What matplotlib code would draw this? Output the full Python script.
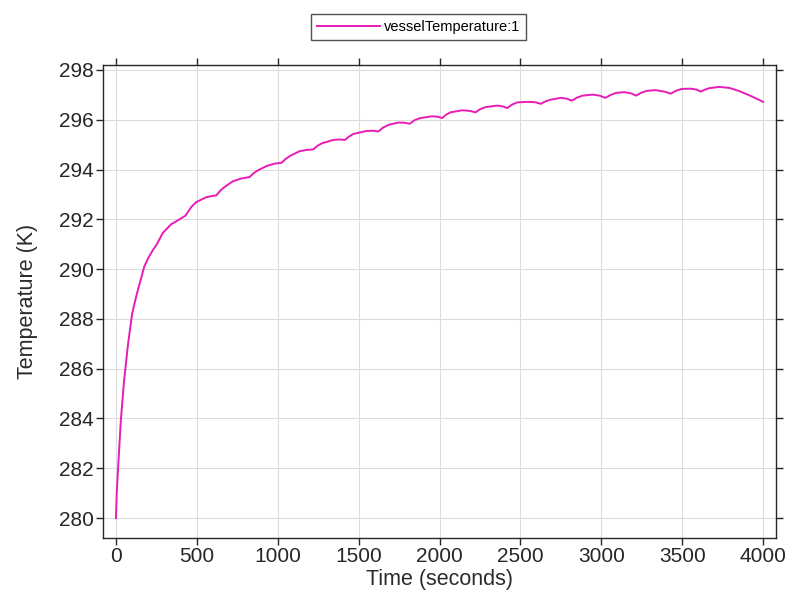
import matplotlib
matplotlib.use('Agg')
import matplotlib.pyplot as plt

plt.rcParams['font.family'] = ['Liberation Sans', 'DejaVu Sans']

# Time (s) and vessel temperature (K)
time_s = [0, 5, 15, 30, 50, 75, 100, 125, 150, 175, 200, 227, 253, 289, 341, 393,
          430, 465, 496, 558, 595, 620, 645, 671, 723, 775, 826, 850, 878, 930, 981,
          1023, 1048, 1074, 1136, 1180, 1219, 1245, 1271, 1343, 1380, 1415, 1440,
          1467, 1550, 1590, 1622, 1650, 1686, 1748, 1785, 1816, 1845, 1882, 1955,
          1990, 2017, 2040, 2068, 2140, 2185, 2223, 2250, 2285, 2357, 2390, 2419,
          2445, 2481, 2554, 2595, 2626, 2655, 2688, 2750, 2785, 2818, 2850, 2884,
          2946, 2990, 3025, 3055, 3091, 3143, 3185, 3215, 3245, 3280, 3336, 3390,
          3430, 3460, 3497, 3554, 3590, 3614, 3640, 3667, 3729, 3792, 3854, 3927,
          4000]
vessel_temp = [280.0, 281.0, 282.2, 283.9, 285.5, 287.0, 288.2, 288.9, 289.5, 290.1,
               290.45, 290.75, 291.0, 291.45, 291.8, 292.0, 292.15, 292.49, 292.69,
               292.89, 292.94, 292.96, 293.15, 293.30, 293.53, 293.64, 293.70, 293.85,
               293.97, 294.14, 294.24, 294.27, 294.42, 294.54, 294.74, 294.79, 294.81,
               294.95, 295.05, 295.19, 295.21, 295.19, 295.32, 295.43, 295.55, 295.56,
               295.53, 295.68, 295.80, 295.89, 295.88, 295.84, 295.98, 296.07, 296.14,
               296.12, 296.07, 296.20, 296.30, 296.38, 296.36, 296.30, 296.42, 296.51,
               296.57, 296.54, 296.47, 296.60, 296.70, 296.72, 296.70, 296.64, 296.74,
               296.81, 296.88, 296.85, 296.77, 296.89, 296.97, 297.01, 296.97, 296.88,
               296.99, 297.08, 297.11, 297.06, 296.97, 297.08, 297.16, 297.19, 297.13,
               297.05, 297.16, 297.24, 297.25, 297.21, 297.13, 297.21, 297.27, 297.32,
               297.28, 297.15, 296.95, 296.72]

x_ticks = list(range(0, 4001, 500))
y_ticks = list(range(280, 299, 2))

fig = plt.figure(figsize=(7.88, 6.11), dpi=100)
ax = fig.add_axes([0.1307, 0.1195, 0.8541, 0.7741])

ax.plot(time_s, vessel_temp, color='#e81cb6', linewidth=1.4, label='vesselTemperature:1')

ax.set_xlim(-80, 4080)
ax.set_ylim(279.2, 298.2)
ax.set_xticks(x_ticks)
ax.set_yticks(y_ticks)
ax.grid(True, color='#dcdcdc', linewidth=0.8)
ax.set_axisbelow(True)

ax.tick_params(direction='out', length=5, width=1, colors='#262626', labelsize=15,
               top=True, right=True, pad=1.5)
for s in ax.spines.values():
    s.set_color('#262626')
    s.set_linewidth(1)

ax.set_xlabel('Time (seconds)', fontsize=15.5, color='#2b2b2b', labelpad=2)
ax.set_ylabel('Temperature (K)', fontsize=15.5, color='#2b2b2b', labelpad=15)

leg = ax.legend(loc='lower center', bbox_to_anchor=(0.4695, 1.053), fontsize=10.5,
                frameon=True, fancybox=False, shadow=False, handlelength=4.3,
                handletextpad=0.3, borderaxespad=0, borderpad=0.4)
leg.get_frame().set_edgecolor('#262626')
leg.get_frame().set_linewidth(1)

fig.savefig('out.png', dpi=100)
